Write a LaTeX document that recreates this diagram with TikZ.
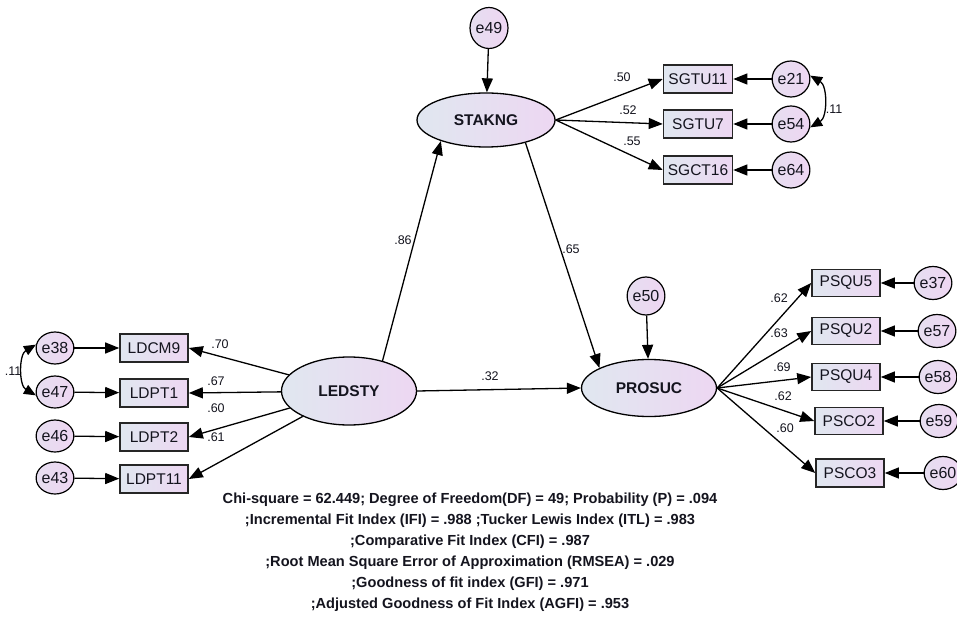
\documentclass[tikz,border=0pt]{standalone}
\usepackage{fontspec}
\setmainfont{Liberation Sans}
\usetikzlibrary{arrows.meta,shapes.geometric}

\definecolor{fillL}{RGB}{224,231,240}
\definecolor{fillR}{RGB}{237,215,242}
\definecolor{errL}{RGB}{230,222,240}
\definecolor{errR}{RGB}{238,214,242}
\definecolor{ink}{RGB}{20,20,30}

\begin{document}
\begin{tikzpicture}[x=1pt,y=-1pt,
  latent/.style={ellipse,draw=black,line width=1.3pt,left color=fillL,right color=fillR,
    inner sep=0pt,font=\fontsize{15.5}{15.5}\selectfont\bfseries,text=ink},
  obs/.style={rectangle,draw=black!85,line width=1.6pt,left color=fillL,right color=fillR,
    minimum width=69pt,minimum height=28pt,inner sep=0pt,font=\fontsize{15.5}{15.5}\selectfont,text=ink},
  err/.style={ellipse,draw=black,line width=1.2pt,left color=errL,right color=errR,
    minimum width=32pt,minimum height=36pt,inner sep=0pt,font=\fontsize{16}{16}\selectfont,text=ink},
  reg/.style={-{Triangle[length=14pt,width=11pt]},line width=1.3pt},
  cov/.style={{Triangle[length=12pt,width=10pt]}-{Triangle[length=12pt,width=10pt]},line width=1.3pt},
  coef/.style={font=\fontsize{12.5}{12.5}\selectfont,text=ink,inner sep=0pt},
  fit/.style={align=center,font=\fontsize{14.6}{21}\selectfont\bfseries,text=ink},
]
\useasboundingbox (0,0) rectangle (957,617);

% latent variables
\node[latent,minimum width=138pt,minimum height=54pt] (stak) at (486,120) {STAKNG};
\node[latent,minimum width=135pt,minimum height=68pt] (led) at (349,391) {LEDSTY};
\node[latent,minimum width=135pt,minimum height=57pt] (pro) at (649,388) {PROSUC};

% structural disturbances
\node[err,minimum width=38pt,minimum height=41pt] (e49) at (489,28) {e49};
\node[err,minimum width=35pt,minimum height=38pt] (e50) at (646,296) {e50};

% STAKNG indicators
\node[obs] (sgtu11) at (698,79) {SGTU11};
\node[obs] (sgtu7) at (698,124) {SGTU7};
\node[obs] (sgct16) at (698,170) {SGCT16};
\node[err,minimum width=31pt] (e21) at (791,79) {e21};
\node[err,minimum width=31pt] (e54) at (791,124) {e54};
\node[err,minimum width=31pt] (e64) at (791,170) {e64};

% LEDSTY indicators
\node[obs,minimum width=68pt] (ldcm9) at (154,348) {LDCM9};
\node[obs,minimum width=68pt] (ldpt1) at (154,393) {LDPT1};
\node[obs,minimum width=68pt] (ldpt2) at (154,437) {LDPT2};
\node[obs,minimum width=68pt] (ldpt11) at (154,479) {LDPT11};
\node[err,minimum width=31pt,minimum height=32pt] (e38) at (55,348) {e38};
\node[err,minimum width=31pt,minimum height=32pt] (e47) at (55,392) {e47};
\node[err,minimum width=31pt,minimum height=32pt] (e46) at (55,436) {e46};
\node[err,minimum width=31pt,minimum height=32pt] (e43) at (55,478) {e43};

% PROSUC indicators
\node[obs,minimum width=68pt,minimum height=27pt] (psqu5) at (846,283) {PSQU5};
\node[obs,minimum width=68pt,minimum height=27pt] (psqu2) at (846,331) {PSQU2};
\node[obs,minimum width=68pt,minimum height=27pt] (psqu4) at (846,377) {PSQU4};
\node[obs,minimum width=68pt,minimum height=27pt] (psco2) at (849,421) {PSCO2};
\node[obs,minimum width=68pt,minimum height=28pt] (psco3) at (850,473) {PSCO3};
\node[err,minimum height=33pt] (e37) at (933,283) {e37};
\node[err,minimum height=33pt] (e57) at (937,331) {e57};
\node[err,minimum height=33pt] (e58) at (938,377) {e58};
\node[err,minimum height=33pt] (e59) at (939,421) {e59};
\node[err,minimum height=33pt] (e60) at (943,473) {e60};

% structural paths
\draw[reg] (led.42) -- (stak.205);
\draw[reg] (stak.-30) -- (pro.158);
\draw[reg] (led.east) -- (pro.west);
\draw[reg] (e49) -- (stak);
\draw[reg] (e50) -- (pro);
\node[coef] (c86) at (403,240) {.86};
\node[coef] (c65) at (571,249) {.65};
\node[coef] (c32) at (490,376) {.32};

% STAKNG measurement
\draw[reg] (stak.east) -- (sgtu11.west);
\draw[reg] (stak.east) -- (sgtu7.west);
\draw[reg] (stak.east) -- (sgct16.west);
\draw[reg] (e21) -- (sgtu11);
\draw[reg] (e54) -- (sgtu7);
\draw[reg] (e64) -- (sgct16);
\draw[cov] (e21.10) to[bend left=60] (e54.-10);
\node[coef] (c50) at (622,77) {.50};
\node[coef] (c52) at (628,110) {.52};
\node[coef] (c55) at (632,141) {.55};
\node[coef] (c11r) at (834,109) {.11};

% LEDSTY measurement
\draw[reg] (led) -- (ldcm9.east);
\draw[reg] (led) -- (ldpt1.east);
\draw[reg] (led) -- (ldpt2.east);
\draw[reg] (led) -- (ldpt11.east);
\draw[reg] (e38) -- (ldcm9);
\draw[reg] (e47) -- (ldpt1);
\draw[reg] (e46) -- (ldpt2);
\draw[reg] (e43) -- (ldpt11);
\draw[cov] (e38.170) to[bend right=60] (e47.190);
\node[coef] (c70) at (220,344) {.70};
\node[coef] (c67) at (216,381) {.67};
\node[coef] (c60) at (216,408) {.60};
\node[coef] (c61) at (216,437) {.61};
\node[coef] (c11l) at (13,371) {.11};

% PROSUC measurement
\draw[reg] (pro.east) -- (psqu5.west);
\draw[reg] (pro.east) -- (psqu2.west);
\draw[reg] (pro.east) -- (psqu4.west);
\draw[reg] (pro.east) -- (psco2.west);
\draw[reg] (pro.east) -- (psco3.west);
\draw[reg] (e37) -- (psqu5);
\draw[reg] (e57) -- (psqu2);
\draw[reg] (e58) -- (psqu4);
\draw[reg] (e59) -- (psco2);
\draw[reg] (e60) -- (psco3);
\node[coef] (c62a) at (779,298) {.62};
\node[coef] (c63) at (779,333) {.63};
\node[coef] (c69) at (782,367) {.69};
\node[coef] (c62b) at (783,396) {.62};
\node[coef] (c60p) at (785,428) {.60};

% fit statistics
\node[fit] (fitstats) at (470,552) {Chi-square = 62.449; Degree of Freedom(DF) = 49; Probability (P) = .094\\
;Incremental Fit Index (IFI) = .988 ;Tucker Lewis Index (ITL) = .983\\
;Comparative Fit Index (CFI) = .987\\
;Root Mean Square Error of Approximation (RMSEA) = .029\\
;Goodness of fit index (GFI) = .971\\
;Adjusted Goodness of Fit Index (AGFI) = .953};
\end{tikzpicture}
\end{document}
